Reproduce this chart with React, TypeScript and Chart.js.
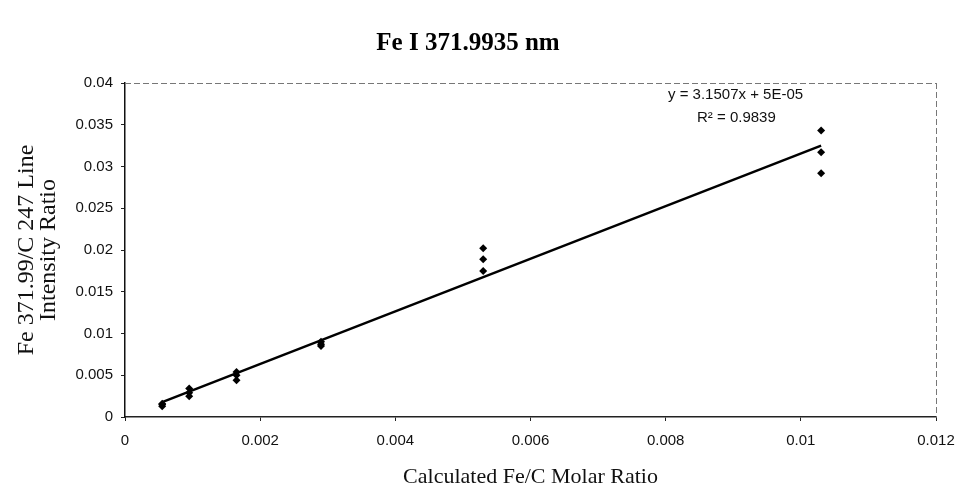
import React, { useEffect, useRef } from "react";
import { Chart, registerables } from "chart.js";

Chart.register(...registerables);

const xValues = [
  0.00055, 0.00055, 0.00055,
  0.00095, 0.00095, 0.00095,
  0.00165, 0.00165, 0.00165,
  0.0029, 0.0029, 0.0029,
  0.0053, 0.0053, 0.0053,
  0.0103, 0.0103, 0.0103,
];
const yValues = [
  0.0013, 0.0015, 0.0016,
  0.0034, 0.0029, 0.0025,
  0.0054, 0.005, 0.0044,
  0.009, 0.0087, 0.0085,
  0.0202, 0.0189, 0.0175,
  0.0343, 0.0317, 0.0292,
];
const slope = 3.1507;
const intercept = 0.00005;
const trendX = [0.00055, 0.0103];
const xTickLabels = ["0", "0.002", "0.004", "0.006", "0.008", "0.01", "0.012"];
const yTickLabels = ["0", "0.005", "0.01", "0.015", "0.02", "0.025", "0.03", "0.035", "0.04"];
const equationText = "y = 3.1507x + 5E-05";
const r2Text = "R² = 0.9839";

const framePlugin = {
  id: "frame",
  afterDraw(chart: any) {
    const { ctx, chartArea } = chart;
    const { left, right, top, bottom } = chartArea;
    ctx.save();
    ctx.strokeStyle = "#777";
    ctx.lineWidth = 1;
    ctx.setLineDash([6, 3]);
    ctx.beginPath();
    ctx.moveTo(left, top + 0.5);
    ctx.lineTo(right, top + 0.5);
    ctx.moveTo(right + 0.5, top);
    ctx.lineTo(right + 0.5, bottom);
    ctx.stroke();
    ctx.setLineDash([]);
    ctx.fillStyle = "#111";
    ctx.font = "15px 'Liberation Sans', Arial, sans-serif";
    ctx.textAlign = "left";
    ctx.textBaseline = "middle";
    ctx.fillText(equationText, 668, 95);
    ctx.fillText(r2Text, 697, 118);
    ctx.restore();
  },
};

export default function App() {
  const ref = useRef<HTMLCanvasElement>(null);
  useEffect(() => {
    document.body.style.margin = "0";
    const points = xValues.map((x, i) => ({ x, y: yValues[i] }));
    const trend = trendX.map((x) => ({ x, y: slope * x + intercept }));
    const chart = new Chart(ref.current!, {
      type: "scatter",
      data: {
        datasets: [
          {
            type: "line",
            data: trend,
            borderColor: "#000",
            borderWidth: 2.5,
            pointRadius: 0,
            fill: false,
          } as any,
          {
            data: points,
            pointStyle: "rectRot",
            pointRadius: 4,
            backgroundColor: "#000",
            borderColor: "#000",
            borderWidth: 0,
          },
        ],
      },
      plugins: [framePlugin],
      options: {
        animation: false,
        responsive: false,
        layout: { padding: { left: 0, right: 21, top: 0, bottom: 0 } },
        plugins: {
          legend: { display: false },
          tooltip: { enabled: false },
          title: {
            display: true,
            text: "Fe I 371.9935 nm",
            color: "#000",
            font: { family: "'Liberation Serif', 'Times New Roman', serif", size: 25, weight: "bold", lineHeight: 1.2 },
            padding: { top: 29, bottom: 24 },
          },
        },
        scales: {
          x: {
            type: "linear",
            min: 0,
            max: 0.012,
            afterFit(scale: any) {
              scale.height = 76;
              scale.paddingLeft = 0;
              scale.paddingRight = 0;
            },
            ticks: {
              stepSize: 0.002,
              padding: 11,
              color: "#111",
              font: { family: "'Liberation Sans', Arial, sans-serif", size: 15 },
              maxRotation: 0,
              callback: (_v: any, i: number) => xTickLabels[i],
            },
            grid: { drawOnChartArea: false, tickLength: 4, color: "#222" },
            border: { color: "#222", width: 1.5 },
            title: {
              display: true,
              text: "Calculated Fe/C Molar Ratio",
              color: "#111",
              font: { family: "'Liberation Serif', 'Times New Roman', serif", size: 22 },
              padding: { top: 0, bottom: 3 },
            },
          },
          y: {
            type: "linear",
            min: 0,
            max: 0.04,
            afterFit(scale: any) {
              scale.width = 125;
            },
            ticks: {
              stepSize: 0.005,
              padding: 8,
              color: "#111",
              font: { family: "'Liberation Sans', Arial, sans-serif", size: 15 },
              callback: (_v: any, i: number) => yTickLabels[i],
            },
            grid: { drawOnChartArea: false, tickLength: 4, color: "#222" },
            border: { color: "#111", width: 1.5 },
            title: {
              display: true,
              text: ["Fe 371.99/C 247 Line", "Intensity Ratio"],
              color: "#111",
              font: { family: "'Liberation Serif', 'Times New Roman', serif", size: 24, lineHeight: 0.92 },
              padding: { top: 16, bottom: 0 },
            },
          },
        },
      },
    });
    return () => chart.destroy();
  }, []);
  return (
    <div style={{ width: 957, height: 493, position: "relative", background: "#fff" }}>
      <canvas ref={ref} width={957} height={493} style={{ display: "block" }} />
    </div>
  );
}
